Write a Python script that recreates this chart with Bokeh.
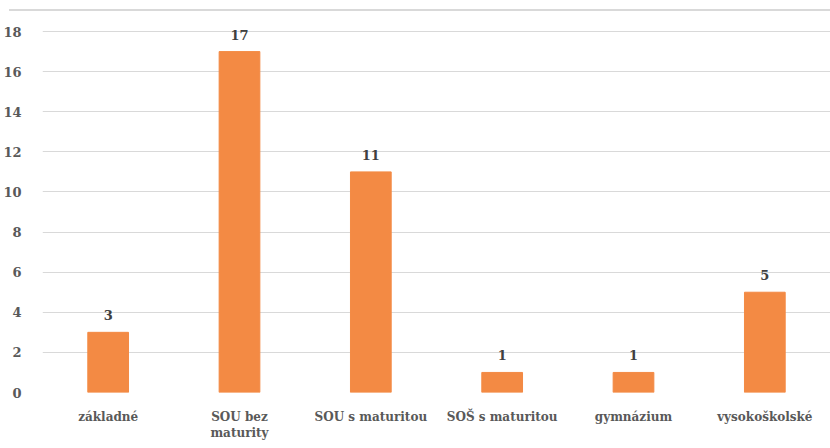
from bokeh.plotting import figure
from bokeh.models import ColumnDataSource, FixedTicker, Div, FactorRange
from bokeh.layouts import column
from bokeh.core.properties import value
from bokeh.embed import file_html
from bokeh.resources import INLINE

categories = ["základné", "SOU bez\nmaturity", "SOU s maturitou", "SOŠ s maturitou", "gymnázium", "vysokoškolské"]
counts = [3, 17, 11, 1, 1, 5]
y_ticks = [0, 2, 4, 6, 8, 10, 12, 14, 16, 18]

FONT = "DejaVu Serif"
TXT = "#595959"
BAR = "#F38A44"

src = ColumnDataSource(dict(cat=categories, val=counts, lab=[str(v) for v in counts]))

p = figure(width=830, height=436, x_range=FactorRange(*categories, range_padding=0),
           y_range=(0, 18.5), output_backend="svg", toolbar_location=None,
           min_border_left=41, min_border_right=0, min_border_top=9, min_border_bottom=56)
p.margin = 0
p.outline_line_color = None
p.vbar(x="cat", top="val", width=0.31, color=BAR, source=src)
p.text(x="cat", y="val", text="lab", source=src, y_offset=-12, text_align="center",
       text_baseline="bottom", text_font=value(FONT), text_font_style="bold",
       text_font_size="13px", text_color="#404040")

p.xgrid.grid_line_color = None
p.ygrid.grid_line_color = "#d9d9d9"
p.ygrid.grid_line_width = 1
p.yaxis.ticker = FixedTicker(ticks=y_ticks)
p.xaxis.major_label_text_font = FONT
p.yaxis.major_label_text_font = FONT
p.xaxis.major_label_text_font_style = "bold"
p.yaxis.major_label_text_font_style = "bold"
p.xaxis.major_label_text_font_size = "12px"
p.yaxis.major_label_text_font_size = "13px"
p.xaxis.axis_line_color = None
p.yaxis.axis_line_color = None
p.xaxis.major_tick_line_color = None
p.yaxis.major_tick_line_color = None
p.xaxis.minor_tick_line_color = None
p.yaxis.minor_tick_line_color = None
p.xaxis.major_label_text_color = TXT
p.yaxis.major_label_text_color = TXT
p.yaxis.major_label_standoff = 15
p.xaxis.major_label_standoff = 11

top = Div(text='<div style="position:absolute;top:9px;left:9px;width:821px;height:2px;background:#d9d9d9"></div>',
          width=830, height=12, margin=0, styles={"position": "relative"})

layout = column(top, p, spacing=0, margin=0)
open("out.html", "w").write(file_html(layout, INLINE))
